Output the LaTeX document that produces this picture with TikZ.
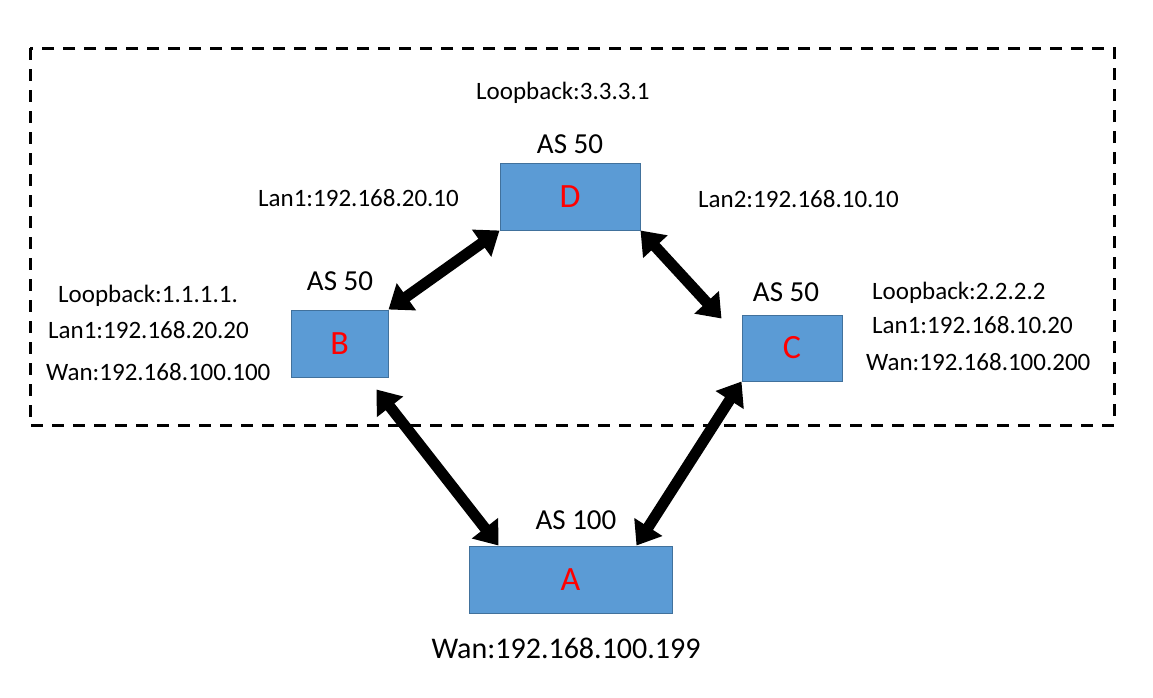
\documentclass[tikz,border=0pt]{standalone}
\usepackage{fontspec}
\setmainfont{Carlito}
\usetikzlibrary{arrows.meta,positioning}

\definecolor{boxfill}{HTML}{5B9BD5}
\definecolor{boxedge}{HTML}{41719C}

\tikzset{
  router/.style={draw=boxedge, line width=1pt, fill=boxfill, text=red,
    font=\fontsize{34}{40}\selectfont, inner sep=0pt},
  aslabel/.style={font=\fontsize{29}{34}\selectfont, inner sep=1pt},
  iplabel/.style={font=\fontsize{25}{30}\selectfont, inner sep=0pt, anchor=west},
  link/.style={line width=11pt, {Triangle[length=22pt,width=32pt]}-{Triangle[length=22pt,width=32pt]}},
  asbox/.style={line width=3pt, dash pattern=on 12pt off 9pt}
}

\begin{document}
\begin{tikzpicture}[x=1pt,y=-1pt]
  \useasboundingbox (0,0) rectangle (1153,697);

  % routers
  \node[router, minimum width=140pt, minimum height=67pt] (d) at (570,196.5) {D};
  \node[router, minimum width=97pt,  minimum height=67pt] (b) at (339.5,343.5) {B};
  \node[router, minimum width=100pt, minimum height=66pt] (c) at (792,348) {C};
  \node[router, minimum width=203pt, minimum height=67pt] (a) at (570.5,579.5) {A};

  % AS 50 area
  \draw[asbox] (30,48) rectangle (1114,425);

  % AS numbers
  \node[aslabel, above=8pt of d] (asd) {AS 50};
  \node[aslabel] (asb) at (340,281) {AS 50};
  \node[aslabel] (asc) at (786,292) {AS 50};
  \node[aslabel] (asa) at (576,520) {AS 100};

  % addresses
  \node[iplabel] (lod) at (476,93) {Loopback:3.3.3.1};
  \node[iplabel] (lan1d) at (258,198) {Lan1:192.168.20.10};
  \node[iplabel] (lan2d) at (698,199) {Lan2:192.168.10.10};

  \node[iplabel] (lob) at (58,296) {Loopback:1.1.1.1.};
  \node[iplabel] (lanb) at (48,330) {Lan1:192.168.20.20};
  \node[iplabel] (wanb) at (46,372) {Wan:192.168.100.100};

  \node[iplabel] (loc) at (872,293) {Loopback:2.2.2.2};
  \node[iplabel] (lanc) at (872,325) {Lan1:192.168.10.20};
  \node[iplabel] (wanc) at (866,362) {Wan:192.168.100.200};

  \node[font=\fontsize{30}{36}\selectfont, anchor=west] (wana) at (428,648) {Wan:192.168.100.199};

  % links
  \draw[link] (b.north east) -- (d.south west);
  \draw[link] (d.south east) -- ([xshift=-20pt,yshift=-4pt]c.north west);
  \draw[link] ([xshift=-12pt,yshift=-12pt]b.south east) -- ([xshift=30pt]a.north west);
  \draw[link] (c.south west) -- ([xshift=-36pt]a.north east);
\end{tikzpicture}
\end{document}
